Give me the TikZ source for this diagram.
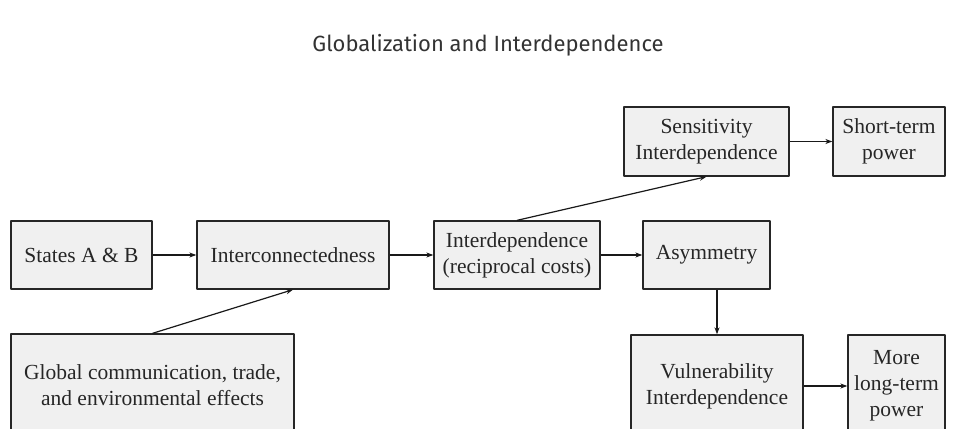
\documentclass[tikz,border=0pt]{standalone}
\usepackage{fontspec}
\setmainfont{Liberation Serif}
\newfontfamily\titlefont{Fira Sans}
\usetikzlibrary{arrows.meta}

\tikzset{
  box/.style={draw=black!85, line width=1.3pt, fill=black!6, align=center,
    inner sep=0pt, font=\fontsize{21.5}{26}\selectfont, text=black!85},
  link/.style={line width=1.2pt, -{Stealth[length=7pt,width=5pt]}, black!90}
}

\begin{document}
\begin{tikzpicture}[x=1pt,y=-1pt,line join=round]
  \useasboundingbox (0,0) rectangle (960,428);

  % nadpis
  \node[font=\titlefont\fontsize{22}{26}\selectfont, text=black!80] (title) at (488,45)
    {Globalization and Interdependence};

  % levý sloupec
  \node[box, minimum width=141, minimum height=68] (states) at (81.5,255) {States A \& B};
  \node[box, minimum width=283, minimum height=102] (global) at (152.5,385)
    {Global communication, trade,\\and environmental effects};

  % prostřední řada
  \node[box, minimum width=192, minimum height=68] (conn) at (293,255) {Interconnectedness};
  \node[box, minimum width=166, minimum height=68] (interdep) at (517,255)
    {Interdependence\\(reciprocal costs)};
  \node[box, minimum width=127, minimum height=68] (asym) at (706.5,255) {Asymmetry};

  % horní řada
  \node[box, minimum width=165, minimum height=69] (sens) at (706.5,141.5)
    {Sensitivity\\Interdependence};
  \node[box, minimum width=112, minimum height=69] (short) at (889,141.5)
    {Short-term\\power};

  % dolní řada
  \node[box, minimum width=172, minimum height=102] (vuln) at (717,386)
    {Vulnerability\\Interdependence};
  \node[box, minimum width=97, minimum height=102] (more) at (896.5,386)
    {More\\long-term\\power};

  % šipky
  \draw[link] (states) -- (conn);
  \draw[link] (global.north) -- (conn.south);
  \draw[link] (conn) -- (interdep);
  \draw[link] (interdep.north) -- (sens.south);
  \draw[link] (interdep) -- (asym);
  \draw[link] (sens) -- (short);
  \draw[link] (vuln.north |- asym.south) -- (vuln.north);
  \draw[link] (vuln) -- (more);
\end{tikzpicture}
\end{document}
